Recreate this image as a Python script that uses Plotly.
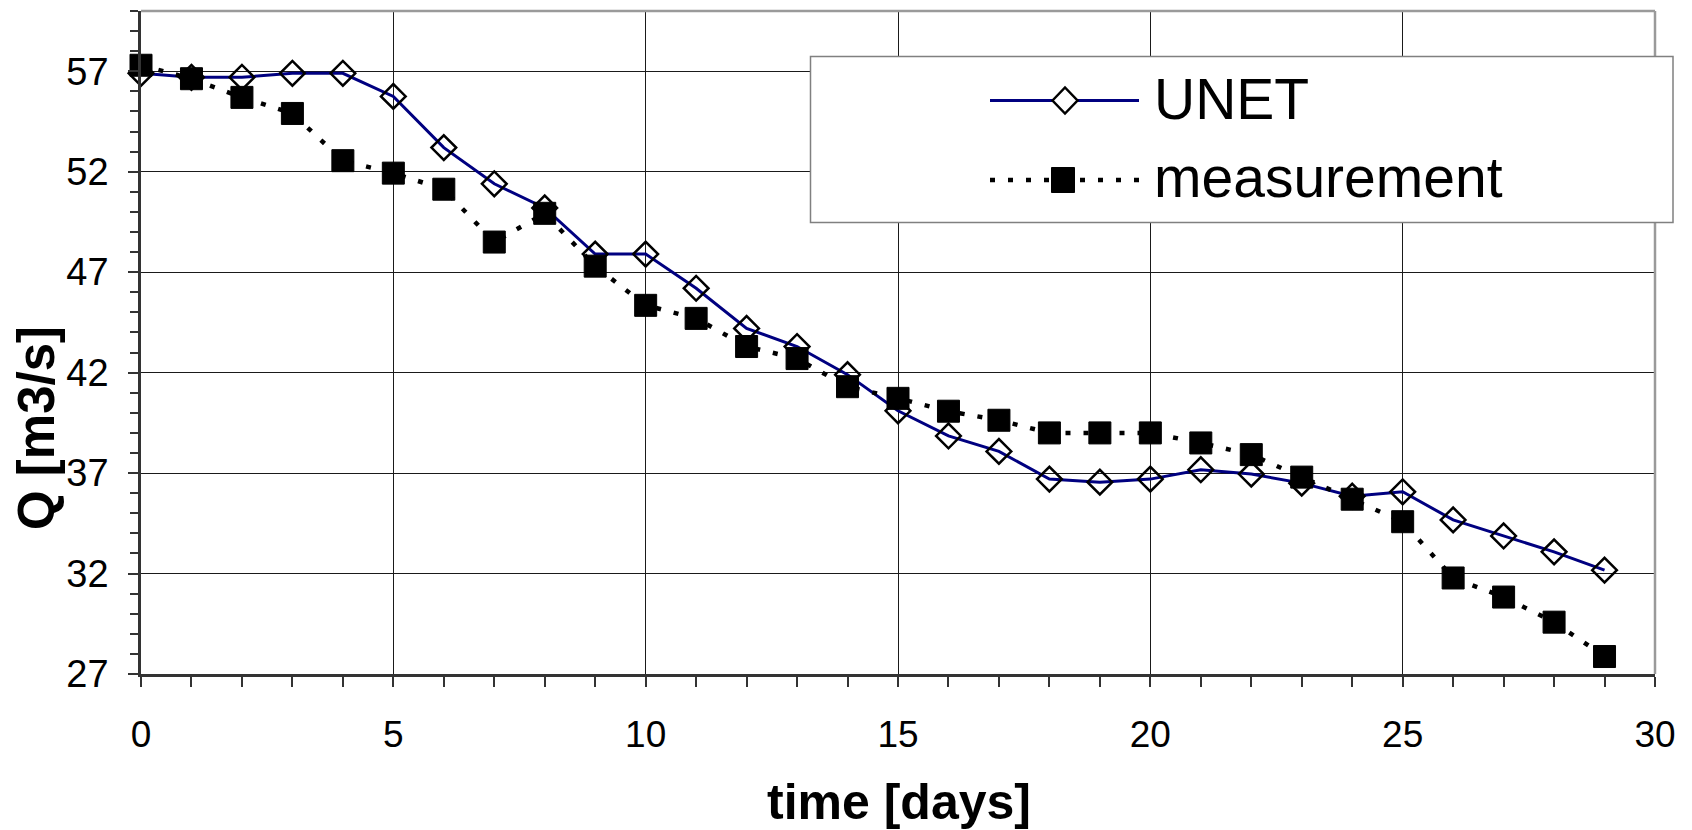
import plotly.graph_objects as go

days = list(range(30))
unet = [56.9, 56.7, 56.7, 56.9, 56.9, 55.75, 53.2, 51.4, 50.2, 47.9,
        47.9, 46.2, 44.2, 43.3, 41.9, 40.1, 38.85, 38.08, 36.7, 36.55,
        36.7, 37.17, 36.95, 36.5, 35.85, 36.07, 34.67, 33.87, 33.08, 32.17]
meas = [57.3, 56.63, 55.7, 54.9, 52.55, 51.93, 51.13, 48.5, 49.93, 47.3,
        45.35, 44.7, 43.3, 42.7, 41.3, 40.72, 40.08, 39.63, 39.0, 39.0,
        39.0, 38.5, 37.92, 36.8, 35.7, 34.58, 31.78, 30.83, 29.58, 27.87]
series_names = ["UNET", "measurement"]
x_title = "time [days]"
y_title = "Q [m3/s]"

FONT = "Liberation Sans, Arial, sans-serif"
W, H = 1692, 830
L, R, T, B = 141, 37, 11, 156
PW, PH = W - L - R, H - T - B
DOT = "5px,13px"


def px(xp):
    return (xp - L) / PW


def py(yp):
    return (H - B - yp) / PH


fig = go.Figure()
fig.add_trace(go.Scatter(
    x=days, y=unet, mode="lines+markers", name=series_names[0],
    line=dict(color="#000080", width=3),
    marker=dict(symbol="diamond-open", size=19, color="black",
                line=dict(color="black", width=2.5)),
    cliponaxis=False, showlegend=False))
fig.add_trace(go.Scatter(
    x=days, y=meas, mode="lines+markers", name=series_names[1],
    line=dict(color="black", width=4.5, dash=DOT),
    marker=dict(symbol="square", size=22, color="black",
                line=dict(color="black", width=1)),
    cliponaxis=False, showlegend=False))

shapes = [
    # top and right frame (grey)
    dict(type="line", xref="x domain", yref="y domain", x0=0, x1=1, y0=1, y1=1,
         line=dict(color="#9a9a9a", width=2.5), layer="above"),
    dict(type="line", xref="x domain", yref="y domain", x0=1, x1=1, y0=0, y1=1,
         line=dict(color="#9a9a9a", width=2.5), layer="above"),
    # legend box
    dict(type="rect", xref="paper", yref="paper",
         x0=px(810.5), x1=px(1673), y0=py(222.5), y1=py(56.5),
         fillcolor="white", line=dict(color="#808080", width=1.5), layer="above"),
    # legend sample lines
    dict(type="line", xref="paper", yref="paper",
         x0=px(990), x1=px(1139), y0=py(100.5), y1=py(100.5),
         line=dict(color="#000080", width=3), layer="above"),
    dict(type="line", xref="paper", yref="paper",
         x0=px(990), x1=px(1139), y0=py(180), y1=py(180),
         line=dict(color="black", width=4.5, dash=DOT), layer="above"),
    # legend markers
    dict(type="path", xref="paper", yref="paper", xsizemode="pixel", ysizemode="pixel",
         xanchor=px(1065), yanchor=py(100.5),
         path="M -12.5 0 L 0 13 L 12.5 0 L 0 -13 Z",
         fillcolor="white", line=dict(color="black", width=2.5), layer="above"),
    dict(type="rect", xref="paper", yref="paper", xsizemode="pixel", ysizemode="pixel",
         xanchor=px(1063), yanchor=py(180), x0=-11.5, x1=11.5, y0=-12.5, y1=12.5,
         fillcolor="black", line=dict(color="black", width=1), layer="above"),
]

annotations = [
    dict(text=series_names[0], xref="paper", yref="paper", x=px(1152), y=py(99),
         xanchor="left", yanchor="middle", showarrow=False,
         font=dict(family=FONT, size=57, color="black")),
    dict(text=series_names[1], xref="paper", yref="paper", x=px(1152), y=py(177),
         xanchor="left", yanchor="middle", showarrow=False,
         font=dict(family=FONT, size=57, color="black")),
    dict(text="<b>%s</b>" % x_title, xref="paper", yref="paper", x=px(899), y=py(802),
         xanchor="center", yanchor="middle", showarrow=False,
         font=dict(family=FONT, size=50, color="black")),
    dict(text="<b>%s</b>" % y_title, xref="paper", yref="paper", x=px(36), y=py(428),
         xanchor="center", yanchor="middle", showarrow=False, textangle=-90,
         font=dict(family=FONT, size=51, color="black")),
]

fig.update_layout(
    width=W, height=H,
    margin=dict(l=L, r=R, t=T, b=B, pad=0),
    paper_bgcolor="white", plot_bgcolor="white",
    font=dict(family=FONT, color="black"),
    showlegend=False,
    shapes=shapes,
    annotations=annotations,
    xaxis=dict(
        range=[0, 30], tickmode="linear", tick0=0, dtick=5,
        showgrid=True, gridcolor="#1a1a1a", gridwidth=1,
        zeroline=False, showline=True, linecolor="#333333", linewidth=2.5,
        ticks="outside", ticklen=10, tickwidth=1.5, tickcolor="#333333",
        minor=dict(dtick=1, ticks="outside", ticklen=10, tickwidth=1.5,
                   tickcolor="#333333", showgrid=False),
        tickfont=dict(family=FONT, size=37, color="black"),
        ticklabelstandoff=16,
    ),
    yaxis=dict(
        range=[27, 60], tickmode="linear", tick0=27, dtick=5,
        showgrid=True, gridcolor="#1a1a1a", gridwidth=1,
        zeroline=False, showline=True, linecolor="#333333", linewidth=2.5,
        ticks="outside", ticklen=10, tickwidth=1.5, tickcolor="#333333",
        minor=dict(dtick=1, ticks="outside", ticklen=8, tickwidth=1.5,
                   tickcolor="#333333", showgrid=False),
        tickfont=dict(family=FONT, size=38, color="black"),
        ticklabelstandoff=12,
    ),
)

fig.write_html("out.html")
